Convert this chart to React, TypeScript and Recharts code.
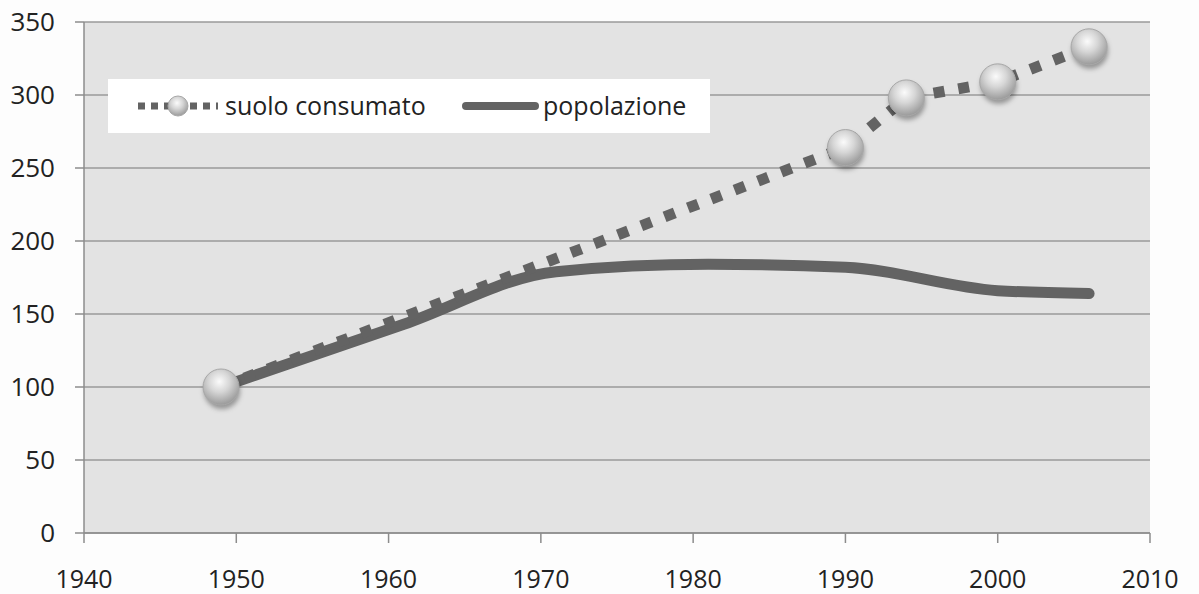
import React from 'react';
import { LineChart, Line, XAxis, YAxis, CartesianGrid, Legend } from 'recharts';

const years = [1949, 1961, 1971, 1981, 1990, 1994, 2000, 2006];
const suoloConsumato: (number | null)[] = [100, null, null, null, 264, 298, 309, 333];
const popolazione: (number | null)[] = [100, 143, 179, 184, 182, null, 166, 164];
const xTicks = [1940, 1950, 1960, 1970, 1980, 1990, 2000, 2010];
const yTicks = [0, 50, 100, 150, 200, 250, 300, 350];
const seriesNames = ['suolo consumato', 'popolazione'];

const data = years.map((y, i) => ({ year: y, suolo: suoloConsumato[i], pop: popolazione[i] }));

const FONT = '"Open Sans", "Noto Sans", sans-serif';
const LINE = '#636363';

const Sphere = (props: any) => {
  const { cx, cy, value, index } = props;
  if (value == null || cx == null || cy == null) return <g key={`d${index}`} />;
  const id = `sph${index}`;
  return (
    <g key={`d${index}`}>
      <defs>
        <radialGradient id={id} cx="45%" cy="35%" r="65%">
          <stop offset="0%" stopColor="#fbfbfb" />
          <stop offset="45%" stopColor="#d6d6d6" />
          <stop offset="100%" stopColor="#9a9a9a" />
        </radialGradient>
        <filter id={`${id}f`} x="-50%" y="-50%" width="200%" height="200%">
          <feGaussianBlur stdDeviation="2.5" />
        </filter>
      </defs>
      <circle cx={cx + 1} cy={cy + 4} r={18} fill="rgba(0,0,0,0.35)" filter={`url(#${id}f)`} />
      <circle cx={cx} cy={cy} r={18} fill={`url(#${id})`} stroke="#a8a8a8" strokeWidth={1} />
    </g>
  );
};

const renderLegend = () => (
  <div
    style={{
      width: 602,
      height: 54,
      background: '#ffffff',
      position: 'relative',
      fontFamily: FONT,
      fontSize: 25,
      color: '#222',
    }}
  >
    <svg width={602} height={54} style={{ position: 'absolute', left: 0, top: 0 }}>
      <line x1={30} y1={27} x2={110} y2={27} stroke={LINE} strokeWidth={7} strokeDasharray="7 6" />
      <defs>
        <radialGradient id="lgs" cx="45%" cy="35%" r="65%">
          <stop offset="0%" stopColor="#fbfbfb" />
          <stop offset="45%" stopColor="#d6d6d6" />
          <stop offset="100%" stopColor="#9a9a9a" />
        </radialGradient>
      </defs>
      <circle cx={70} cy={27} r={10} fill="url(#lgs)" stroke="#a8a8a8" strokeWidth={1} />
      <line x1={358} y1={27} x2={427} y2={27} stroke={LINE} strokeWidth={8} strokeLinecap="round" />
    </svg>
    <span style={{ position: 'absolute', left: 117, top: 10, lineHeight: '32px', whiteSpace: 'nowrap' }}>{seriesNames[0]}</span>
    <span style={{ position: 'absolute', left: 435, top: 10, lineHeight: '32px', whiteSpace: 'nowrap' }}>{seriesNames[1]}</span>
  </div>
);

export default function App() {
  return (
    <div style={{ position: 'absolute', left: 0, top: 0, width: 1199, height: 594, background: '#fdfdfd' }}>
      <LineChart
        width={1199}
        height={594}
        data={data}
        margin={{ top: 22, right: 49, bottom: 0, left: 0 }}
      >
        <CartesianGrid vertical={false} fill="#e3e3e3" stroke="#9a9a9a" strokeWidth={1.5} horizontalValues={yTicks} />
        <XAxis
          dataKey="year"
          type="number"
          domain={[1940, 2010]}
          ticks={xTicks}
          height={61}
          tickSize={10}
          tickMargin={27}
          stroke="#8c8c8c"
          strokeWidth={1.5}
          tick={{ fill: '#222', fontSize: 25, fontFamily: FONT }}
          interval={0}
        />
        <YAxis
          type="number"
          domain={[0, 350]}
          ticks={yTicks}
          width={84}
          tickSize={9}
          tickMargin={20}
          stroke="#8c8c8c"
          strokeWidth={1.5}
          tick={{ fill: '#222', fontSize: 26, fontFamily: FONT }}
          interval={0}
        />
        <Legend
          layout="horizontal"
          verticalAlign="middle"
          align="center"
          content={renderLegend}
          wrapperStyle={{ left: 108, top: 79, width: 602, height: 54 }}
        />
        <Line
          dataKey="pop"
          type="monotone"
          stroke={LINE}
          strokeWidth={11}
          strokeLinecap="round"
          dot={false}
          connectNulls
          isAnimationActive={false}
        />
        <Line
          dataKey="suolo"
          type="linear"
          stroke={LINE}
          strokeWidth={11}
          strokeDasharray="11 14"
          dot={<Sphere />}
          activeDot={false}
          connectNulls
          isAnimationActive={false}
        />
      </LineChart>
    </div>
  );
}
